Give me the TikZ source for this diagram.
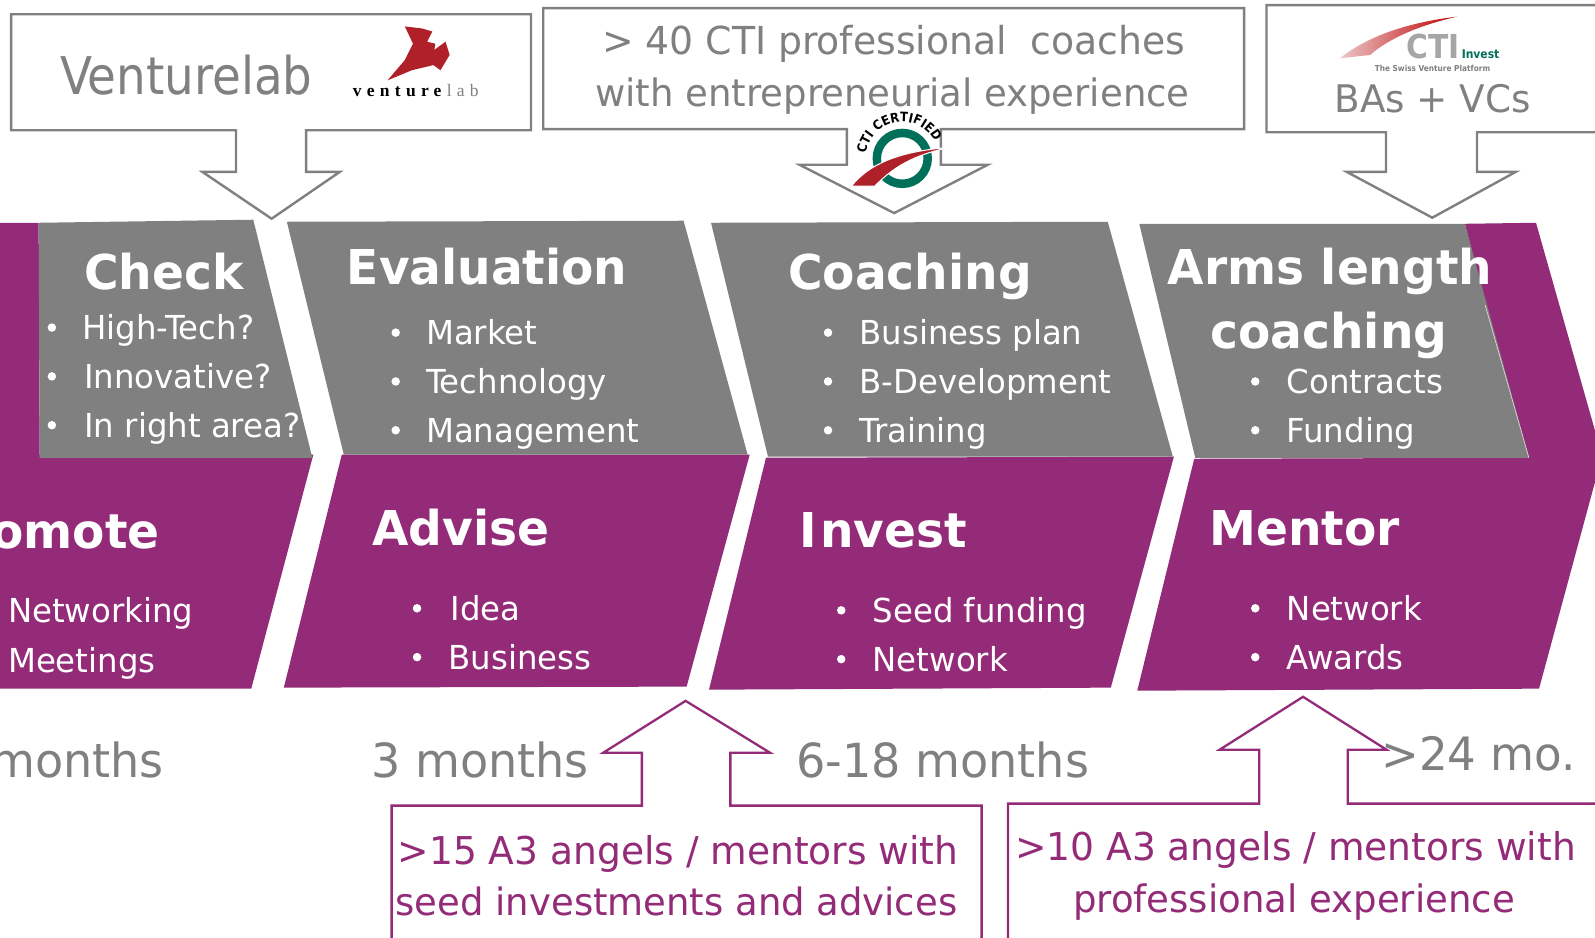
\documentclass[tikz,border=0pt]{standalone}
\usepackage{fontspec}
\setmainfont[FakeStretch=1.09]{DejaVu Sans Condensed}
\newfontfamily\plainfont{DejaVu Sans Condensed}
\newfontfamily\logoserif[LetterSpace=30]{Liberation Serif}
\usetikzlibrary{decorations.text}
\definecolor{plum}{RGB}{148,43,120}
\definecolor{greyb}{RGB}{128,128,128}
\definecolor{teal2}{RGB}{0,112,90}
\definecolor{logored}{RGB}{176,32,40}
\newcommand{\fsz}[1]{\fontsize{#1}{#1}\selectfont}
\tikzset{
  x=1.0172pt,y=-1.0172pt,
  txt/.style={inner sep=0pt,outer sep=0pt,anchor=base west},
  head/.style={txt,text=white,font=\fsz{48}\bfseries},
  item/.style={txt,text=white,font=\fsz{33}},
  dot/.style={circle,fill=white,inner sep=0pt,minimum size=8.5pt},
  gtxt/.style={txt,text=greyb,font=\fsz{47}},
  ptxt/.style={txt,text=plum,font=\fsz{38.3}},
  band/.style={fill=plum},
  slab/.style={fill=greyb},
  callg/.style={draw=greyb,line width=2.4pt,fill=white,miter limit=10},
  callp/.style={draw=plum,line width=2.3pt,fill=white,miter limit=10},
}
\begin{document}
\begin{tikzpicture}
\useasboundingbox (0,0) rectangle (1568,922);
\clip (0,0) rectangle (1568,922);
\fill[white] (0,0) rectangle (1568,922);
% purple chevrons
\path[band] (0,219) -- (38,219) -- (39,447) -- (308,447) -- (247,677) -- (0,677) -- cycle;
\path[band] (336,447) -- (737,447) -- (675,675) -- (279,676) -- cycle;
\path[band] (753,450) -- (1154,449) -- (1092,676) -- (697,678) -- cycle;
\path[band] (1174,451) -- (1500,450) -- (1440,220) -- (1510,219) -- (1575,448) -- (1513,677) -- (1118,679) -- cycle;
% grey slabs
\path[slab] (38,219) -- (249,216) -- (307,450) -- (39,450) -- cycle;
\path[slab] (282,218) -- (672,217) -- (735,447) -- (338,447) -- cycle;
\path[slab] (699,219) -- (1089,218) -- (1153,449) -- (755,449) -- cycle;
\path[slab] (1120,220) -- (1440,220) -- (1503,450) -- (1175,450) -- cycle;
\draw[white!70!greyb,line width=0.7pt] (1460,300) -- (1503,450);
% grey callouts
\path[callg] (11,14) -- (522,14) -- (522,128) -- (301,128) -- (301,169) -- (334,169) -- (267,215) -- (199,169) -- (232,169) -- (232,128) -- (11,128) -- cycle;
\path[callg] (534,8) -- (1223,8) -- (1223,127) -- (925,127) -- (925,162) -- (971,162) -- (879,209.5) -- (786,162) -- (832.5,162) -- (832.5,127) -- (534,127) -- cycle;
\path[callg] (1600,5) -- (1245,5) -- (1245,130) -- (1362.5,130) -- (1362.5,169) -- (1324,169) -- (1408,214) -- (1490,169) -- (1452,169) -- (1452,130) -- (1600,130);
% purple callouts
\path[callp] (385,940) -- (385,792) -- (631,792) -- (631,740) -- (593,740) -- (674,689) -- (757,740) -- (718,740) -- (718,792) -- (965,792) -- (965,940);
\path[callp] (991,940) -- (991,790) -- (1238,790) -- (1238,737) -- (1199,737) -- (1281,685) -- (1363,737) -- (1325,737) -- (1325,790) -- (1600,790);
% headings
\node[head] (hcheck) at (83,285) {Check};
\node[head] (heval) at (341,280) {Evaluation};
\node[head] (hcoach) at (775,285) {Coaching};
\node[head] (harms) at (1148,280) {Arms length};
\node[head] (harms2) at (1190,343) {coaching};
\node[head,anchor=base east] (hpromote) at (157,539) {Promote};
\node[head] (hadvise) at (366,536) {Advise};
\node[head] (hinvest) at (786,538) {I\kern3pt nvest};
\node[head] (hmentor) at (1189,536) {Mentor};
% items
\foreach \n/\x/\y in {b1/51/322,b2/51/370,b3/51/418,b4/389/327,b5/389/375,b6/389/423,b7/814/327,b8/814/375,b9/814/423,b10/1234/375,b11/1234/423,b12/410/598,b13/410/646,b14/827/600,b15/827/648,b16/1234/598,b17/1234/646}
  \node[dot] (\n) at (\x,\y) {};
\node[item] (i1) at (81,334) {High-Tech?};
\node[item] (i2) at (83,382) {Innovative?};
\node[item] (i3) at (83,430) {In right area?};
\node[item] (i4) at (419,339) {Market};
\node[item] (i5) at (419,387) {Technology};
\node[item] (i6) at (419,435) {Management};
\node[item] (i7) at (845,339) {Business plan};
\node[item] (i8) at (845,387) {B-Development};
\node[item] (i9) at (845,435) {Training};
\node[item] (i10) at (1265,387) {Contracts};
\node[item] (i11) at (1265,435) {Funding};
\node[item] (i12) at (8,612) {Networking};
\node[item] (i13) at (8,661) {Meetings};
\node[item] (i14) at (443,610) {Idea};
\node[item] (i15) at (441,658) {Business};
\node[item] (i16) at (858,612) {Seed funding};
\node[item] (i17) at (858,660) {Network};
\node[item] (i18) at (1265,610) {Network};
\node[item] (i19) at (1265,658) {Awards};
% grey texts
\node[gtxt,font=\fsz{52}\plainfont] (tvl) at (59,93) {Venturelab};
\node[gtxt,font=\fsz{38.5}] (t40) at (592,54) {> 40 CTI professional\ \ coaches};
\node[gtxt,font=\fsz{37.8}] (twith) at (585,105) {with entrepreneurial experience};
\node[gtxt,font=\fsz{38}] (tba) at (1312,111) {BAs + VCs};
\node[gtxt,anchor=base east] (tm0) at (161,764) {months};
\node[gtxt] (tm1) at (365,764) {3 months};
\node[gtxt] (tm2) at (783,764) {6-18 months};
\node[gtxt,font=\fsz{46}] (tm3) at (1358,757) {>24 mo.};
% purple texts
\node[ptxt] (p1) at (391,850) {>15 A3 angels / mentors with};
\node[ptxt,font=\fsz{37.7}] (p2) at (389,900) {seed investments and advices};
\node[ptxt] (p3) at (998,846) {>10 A3 angels / mentors with};
\node[ptxt,font=\fsz{37.8}] (p4) at (1055,897) {professional experience};
% venturelab logo
\fill[logored] (398,26) -- (415,28) -- (425,31) -- (420,41) -- (428,43) -- (427,49) -- (438,41) -- (442,54) -- (433,69) -- (426,64) -- (405,69) -- (381,79) -- (398,59) -- (406,43) -- cycle;
\node[txt] (lv) at (347,95) {\fsz{17.5}\logoserif\textbf{venture}\textcolor{greyb}{lab}};
% CTI certified badge
\draw[teal2,line width=8.5pt] (887,155.7) circle (25);
\path[fill=logored,draw=white,line width=1pt] (837,183) .. controls (853,163) and (880,149) .. (934,144.8) .. controls (905,151) and (882,160) .. (860,183) -- cycle;
\path[decorate,decoration={text along path,text align=center,text={|\plainfont\fsz{13}\bfseries|CTI CERTIFIED}}] (887,155.7) ++(170:36) arc[start angle=170,end angle=350,radius=36];
% CTI invest logo
\shade[left color=logored!25,right color=red!75!black] (1317.3,57.3) .. controls (1345,35) and (1385,22) .. (1432,16.4) .. controls (1395,25) and (1365,38) .. (1347,54) -- cycle;
\node[txt,text=black!35,font=\fsz{33}\plainfont\bfseries] (lcti) at (1382.5,57.3) {CTI};
\node[txt,text=teal2,font=\fsz{12}\plainfont\bfseries] (linv) at (1437,57.3) {Invest};
\node[txt,text=black!50,font=\fsz{8.2}\plainfont\bfseries] (lplat) at (1351.5,70.5) {The Swiss Venture Platform};
\end{tikzpicture}
\end{document}
